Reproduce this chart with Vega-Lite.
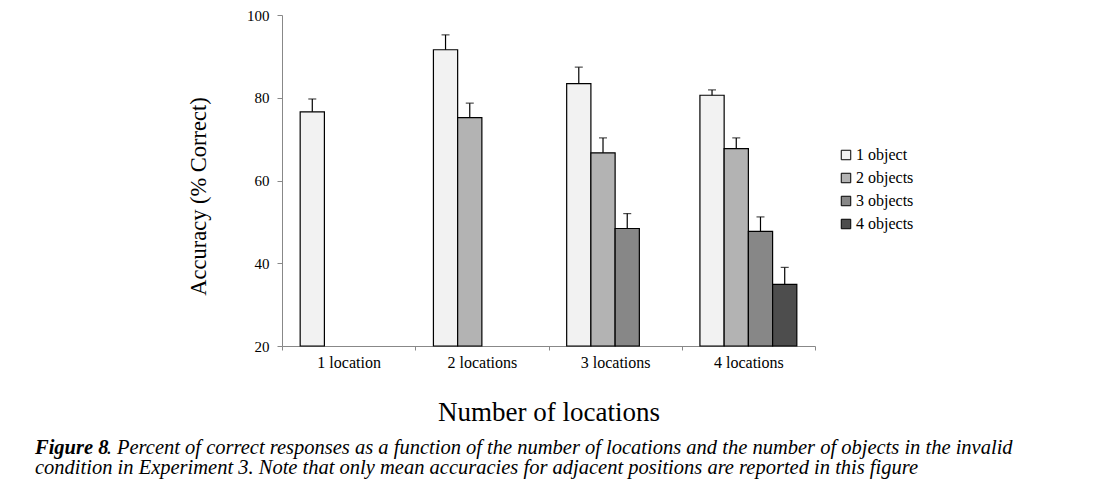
{
  "$schema": "https://vega.github.io/schema/vega-lite/v6.json",
  "width": 533,
  "height": 331,
  "autosize": "none",
  "padding": {"left": 282, "top": 15, "right": 282, "bottom": 137},
  "background": "white",
  "config": {
    "font": "Liberation Serif",
    "view": {"stroke": null},
    "axis": {"domainColor": "#888888", "tickColor": "#888888", "labelColor": "black", "titleColor": "black", "labelFont": "Liberation Serif", "titleFont": "Liberation Serif", "titleFontWeight": "normal", "grid": false}
  },
  "title": {
    "text": "Figure 8",
    "subtitle": ["\u200b\u2003\u2003\u2003\u00a0\u00a0. Percent of correct responses as a function of the number of locations and the number of objects in the invalid", "condition in Experiment 3. Note that only mean accuracies for adjacent positions are reported in this figure"],
    "orient": "bottom",
    "anchor": "start",
    "frame": "group",
    "dx": -247,
    "offset": 13,
    "font": "Liberation Serif",
    "fontStyle": "italic",
    "fontWeight": "bold",
    "fontSize": 20.5,
    "color": "black",
    "subtitleFont": "Liberation Serif",
    "subtitleFontStyle": "italic",
    "subtitleFontWeight": "normal",
    "subtitleFontSize": 20.5,
    "subtitleLineHeight": 20,
    "subtitleColor": "black",
    "subtitlePadding": -20.5
  },
  "data": {
    "values": [
      {"location": "1 location", "objects": "1 object", "accuracy": 76.6, "upper": 79.7},
      {"location": "2 locations", "objects": "1 object", "accuracy": 91.6, "upper": 95.2},
      {"location": "2 locations", "objects": "2 objects", "accuracy": 75.2, "upper": 78.7},
      {"location": "3 locations", "objects": "1 object", "accuracy": 83.4, "upper": 87.4},
      {"location": "3 locations", "objects": "2 objects", "accuracy": 66.7, "upper": 70.3},
      {"location": "3 locations", "objects": "3 objects", "accuracy": 48.4, "upper": 52.0},
      {"location": "4 locations", "objects": "1 object", "accuracy": 80.6, "upper": 81.9},
      {"location": "4 locations", "objects": "2 objects", "accuracy": 67.7, "upper": 70.3},
      {"location": "4 locations", "objects": "3 objects", "accuracy": 47.7, "upper": 51.2},
      {"location": "4 locations", "objects": "4 objects", "accuracy": 34.9, "upper": 39.0}
    ]
  },
  "encoding": {
    "x": {
      "field": "location",
      "type": "nominal",
      "sort": ["1 location", "2 locations", "3 locations", "4 locations"],
      "scale": {"paddingInner": 0, "paddingOuter": 0},
      "axis": {
        "title": "Number of locations",
        "labelAngle": 0,
        "labelFontSize": 16,
        "labelPadding": 4,
        "tickBand": "extent",
        "tickSize": 4,
        "titleFontSize": 27,
        "titlePadding": 29
      }
    },
    "xOffset": {
      "field": "objects",
      "type": "nominal",
      "scale": {"domain": ["1 object", "2 objects", "3 objects", "4 objects"], "paddingInner": 0, "paddingOuter": 0.75}
    }
  },
  "layer": [
    {
      "mark": {"type": "bar", "stroke": "black", "strokeWidth": 1.2},
      "encoding": {
        "y": {
          "field": "accuracy",
          "type": "quantitative",
          "scale": {"domain": [20, 100], "zero": false, "nice": false},
          "axis": {
            "title": "Accuracy (% Correct)",
            "values": [20, 40, 60, 80, 100],
            "labelFontSize": 15,
            "labelPadding": 8,
            "tickSize": 5,
            "titleFontSize": 22.5,
            "titlePadding": 36,
            "titleY": 181
          }
        },
        "y2": {"datum": 20},
        "fill": {
          "field": "objects",
          "type": "nominal",
          "scale": {"domain": ["1 object", "2 objects", "3 objects", "4 objects"], "range": ["#f2f2f2", "#b3b3b3", "#878787", "#4d4d4d"]},
          "legend": {
            "title": null,
            "orient": "none",
            "legendX": 556,
            "legendY": 132,
            "symbolType": "square",
            "symbolSize": 90,
            "symbolStrokeColor": "black",
            "symbolStrokeWidth": 1,
            "labelFont": "Liberation Serif",
            "labelFontSize": 16,
            "labelColor": "black",
            "rowPadding": 7,
            "labelOffset": 2
          }
        }
      }
    },
    {
      "mark": {"type": "rule", "color": "black", "strokeWidth": 1.2},
      "encoding": {
        "y": {"field": "accuracy", "type": "quantitative"},
        "y2": {"field": "upper"}
      }
    },
    {
      "mark": {"type": "tick", "color": "black", "size": 8, "thickness": 1.2},
      "encoding": {
        "y": {"field": "upper", "type": "quantitative"}
      }
    }
  ]
}
